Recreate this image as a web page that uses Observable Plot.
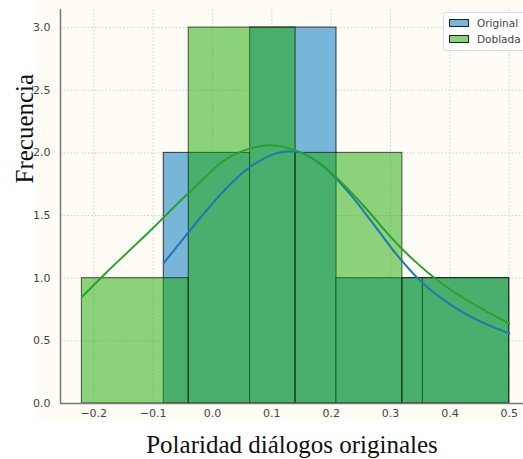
<!DOCTYPE html>
<html>
<head>
<meta charset="utf-8">
<script src="https://cdn.jsdelivr.net/npm/d3@7"></script>
<script src="https://cdn.jsdelivr.net/npm/@observablehq/plot@0.6"></script>
<style>
  body { margin: 0; background: #ffffff; }
  #wrap { position: relative; width: 523px; height: 459px; overflow: hidden; }
  #bg { position: absolute; left: 35px; top: 0; width: 488px; height: 420px; background: #fffcf6; }
  #chart { position: absolute; left: 0; top: 0; }
  #legend { position: absolute; left: 443px; top: 12px; width: 90px; height: 37px; background: #ffffff;
            border: 1px solid #dddddd; border-radius: 3px; font-family: "DejaVu Sans", sans-serif; font-size: 10.5px; color: #444; }
  .item { position: absolute; left: 5px; height: 10px; display: flex; align-items: center; }
  .sw { width: 20px; height: 8px; border: 1px solid #222; box-sizing: border-box; margin-right: 8px; }
</style>
</head>
<body>
<div id="wrap">
  <div id="bg"></div>
  <div id="chart"></div>
  <div id="legend"></div>
</div>
<script>
// Series names
const seriesNames = ["Original", "Doblada"];
const seriesFill = ["#78b6d9", "#17a800"];

// Histogram bin edges and counts
const originalEdges = [-0.082, 0.0635, 0.209, 0.3545, 0.5];
const originalCounts = [2, 3, 1, 1];
const dobladaEdges = [-0.22, -0.04, 0.14, 0.32, 0.5];
const dobladaCounts = [1, 3, 2, 1];

// KDE curves
const originalKdeX = [-0.082, -0.05, -0.01, 0.03, 0.07, 0.11, 0.13, 0.15, 0.19, 0.23, 0.27, 0.31, 0.35, 0.39, 0.43, 0.47, 0.5];
const originalKdeY = [1.12, 1.31, 1.54, 1.75, 1.91, 2.00, 2.01, 2.00, 1.88, 1.68, 1.44, 1.19, 0.98, 0.825, 0.705, 0.615, 0.56];
const dobladaKdeX = [-0.22, -0.18, -0.14, -0.10, -0.06, -0.02, 0.02, 0.06, 0.10, 0.14, 0.18, 0.22, 0.26, 0.30, 0.34, 0.38, 0.42, 0.46, 0.5];
const dobladaKdeY = [0.85, 1.04, 1.22, 1.40, 1.59, 1.77, 1.94, 2.03, 2.06, 2.02, 1.92, 1.75, 1.55, 1.33, 1.14, 0.98, 0.85, 0.74, 0.64];

// Ticks and labels
const xTicks = [-0.2, -0.1, 0.0, 0.1, 0.2, 0.3, 0.4, 0.5];
const yTicks = [0, 0.5, 1.0, 1.5, 2.0, 2.5, 3.0];
const xDomain = [-0.256, 0.524];
const yDomain = [0, 3.144];
const xLabel = "Polaridad diálogos originales";
const yLabel = "Frecuencia";

const bins = (edges, counts) => counts.map((c, i) => ({x1: edges[i], x2: edges[i + 1], y: c}));
const curve = (xs, ys) => xs.map((x, i) => ({x, y: ys[i]}));
const fmt = d => (d < 0 ? "\u2212" : "") + Math.abs(d).toFixed(1);

const chart = Plot.plot({
  width: 523,
  height: 459,
  marginLeft: 60,
  marginRight: 0,
  marginTop: 9,
  marginBottom: 56,
  style: {background: "transparent", overflow: "visible"},
  x: {domain: xDomain},
  y: {domain: yDomain},
  marks: [
    Plot.gridX(xTicks, {stroke: "#d0d0d0", strokeOpacity: 1, strokeDasharray: "1.5,2"}),
    Plot.gridY(yTicks, {stroke: "#d0d0d0", strokeOpacity: 1, strokeDasharray: "1.5,2"}),
    Plot.rectY(bins(originalEdges, originalCounts), {x1: "x1", x2: "x2", y: "y", fill: seriesFill[0], stroke: "#000", strokeOpacity: 0.75, strokeWidth: 1, inset: 0}),
    Plot.rectY(bins(dobladaEdges, dobladaCounts), {x1: "x1", x2: "x2", y: "y", fill: seriesFill[1], fillOpacity: 0.5, stroke: "#000", strokeOpacity: 0.65, strokeWidth: 1, inset: 0}),
    Plot.line(curve(originalKdeX, originalKdeY), {x: "x", y: "y", stroke: "#1f77b4", strokeWidth: 2, curve: "catmull-rom"}),
    Plot.line(curve(dobladaKdeX, dobladaKdeY), {x: "x", y: "y", stroke: "#2ca02c", strokeWidth: 2, curve: "catmull-rom"}),
    Plot.ruleX([xDomain[0]], {stroke: "#777", strokeWidth: 1.5}),
    Plot.ruleY([0], {stroke: "#777", strokeWidth: 1.5}),
    Plot.axisX(xTicks, {tickSize: 0, tickPadding: 6, tickFormat: fmt, fontSize: 11, fill: "#444", fontFamily: "DejaVu Sans", label: null}),
    Plot.axisY(yTicks, {tickSize: 0, tickPadding: 10, tickFormat: fmt, fontSize: 11, fill: "#444", fontFamily: "DejaVu Sans", label: null}),
    Plot.text([xLabel], {frameAnchor: "bottom", dy: 41, fontSize: 25, fontFamily: "Liberation Serif", fill: "#111", lineAnchor: "middle"}),
    Plot.text([yLabel], {frameAnchor: "left", rotate: -90, dx: -36, dy: -23, fontSize: 25, fontFamily: "Liberation Serif", fill: "#111", lineAnchor: "middle"})
  ]
});
document.getElementById("chart").appendChild(chart);

// Legend
const legend = document.getElementById("legend");
const swColors = ["#78b6d9", "#8bd27a"];
seriesNames.forEach((name, i) => {
  const it = document.createElement("div");
  it.className = "item";
  it.style.top = (5 + i * 16) + "px";
  const sw = document.createElement("span");
  sw.className = "sw";
  sw.style.background = swColors[i];
  it.appendChild(sw);
  const t = document.createElement("span");
  t.textContent = name;
  it.appendChild(t);
  legend.appendChild(it);
});
</script>
</body>
</html>
